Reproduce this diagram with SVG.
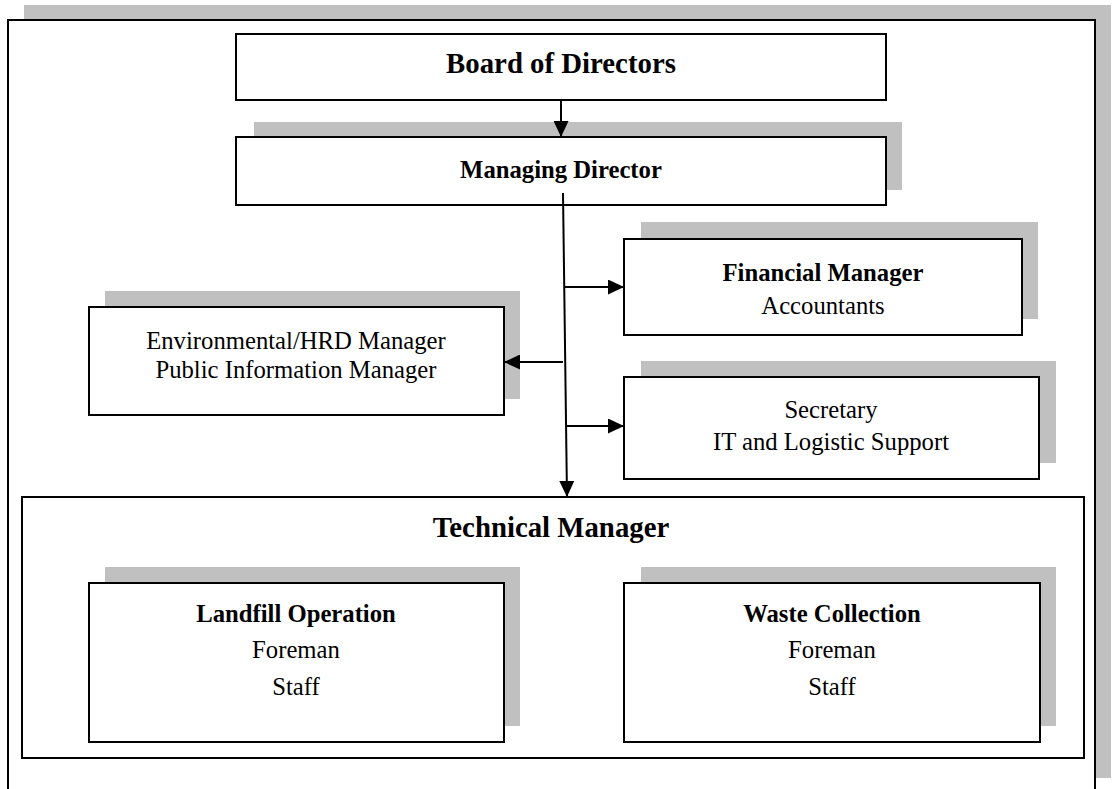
<svg xmlns="http://www.w3.org/2000/svg" width="1112" height="789" viewBox="0 0 1112 789">
<style>
.sh{fill:#c0c0c0}
.bx{fill:#fff;stroke:#000;stroke-width:2}
.t{font-family:"Liberation Serif","Times New Roman",serif;font-size:24.7px;fill:#000;text-anchor:middle}
.b{font-weight:bold}
.big{font-size:28.8px}
.ln{stroke:#000;stroke-width:2;fill:none}
</style>
<defs>
<marker id="ah" viewBox="0 0 16 15" refX="16" refY="7.5" markerWidth="16" markerHeight="15" markerUnits="userSpaceOnUse" orient="auto">
<path d="M0,0 L16,7.5 L0,15 Z" fill="#000"/>
</marker>
</defs>
<g id="frame">
<rect class="sh" x="24" y="5" width="1087" height="773"/>
<rect class="bx" x="8" y="20" width="1087" height="790"/>
</g>
<g id="board">
<rect class="bx" x="236" y="34" width="650" height="66"/>
<text class="t b big" x="561" y="73">Board of Directors</text>
</g>
<g id="md">
<rect class="sh" x="254" y="122" width="648" height="68"/>
<rect class="bx" x="236" y="137" width="650" height="68"/>
<text class="t b" x="561" y="178">Managing Director</text>
</g>
<g id="financial">
<rect class="sh" x="641" y="222" width="397" height="97"/>
<rect class="bx" x="624" y="239" width="398" height="96"/>
<text class="t b" x="823" y="281">Financial Manager</text>
<text class="t" x="823" y="314">Accountants</text>
</g>
<g id="env">
<rect class="sh" x="105" y="291" width="415" height="108"/>
<rect class="bx" x="89" y="307" width="415" height="108"/>
<text class="t" x="296" y="349">Environmental/HRD Manager</text>
<text class="t" x="296" y="378">Public Information Manager</text>
</g>
<g id="secretary">
<rect class="sh" x="641" y="361" width="415" height="102"/>
<rect class="bx" x="624" y="377" width="415" height="102"/>
<text class="t" x="831" y="418">Secretary</text>
<text class="t" x="831" y="450">IT and Logistic Support</text>
</g>
<g id="technical">
<rect class="bx" x="22" y="497" width="1062" height="261"/>
<text class="t b big" x="551" y="537">Technical Manager</text>
</g>
<g id="landfill">
<rect class="sh" x="105" y="567" width="415" height="159"/>
<rect class="bx" x="89" y="583" width="415" height="159"/>
<text class="t b" x="296" y="622">Landfill Operation</text>
<text class="t" x="296" y="658">Foreman</text>
<text class="t" x="296" y="695">Staff</text>
</g>
<g id="waste">
<rect class="sh" x="641" y="567" width="415" height="159"/>
<rect class="bx" x="624" y="583" width="416" height="159"/>
<text class="t b" x="832" y="622">Waste Collection</text>
<text class="t" x="832" y="658">Foreman</text>
<text class="t" x="832" y="695">Staff</text>
</g>
<g id="connectors">
<line class="ln" x1="561" y1="100" x2="561" y2="137" marker-end="url(#ah)"/>
<line class="ln" x1="563" y1="193" x2="567" y2="497" marker-end="url(#ah)"/>
<line class="ln" x1="564" y1="287" x2="624" y2="287" marker-end="url(#ah)"/>
<line class="ln" x1="563" y1="362" x2="504" y2="362" marker-end="url(#ah)"/>
<line class="ln" x1="566" y1="426" x2="624" y2="426" marker-end="url(#ah)"/>
</g>
</svg>
